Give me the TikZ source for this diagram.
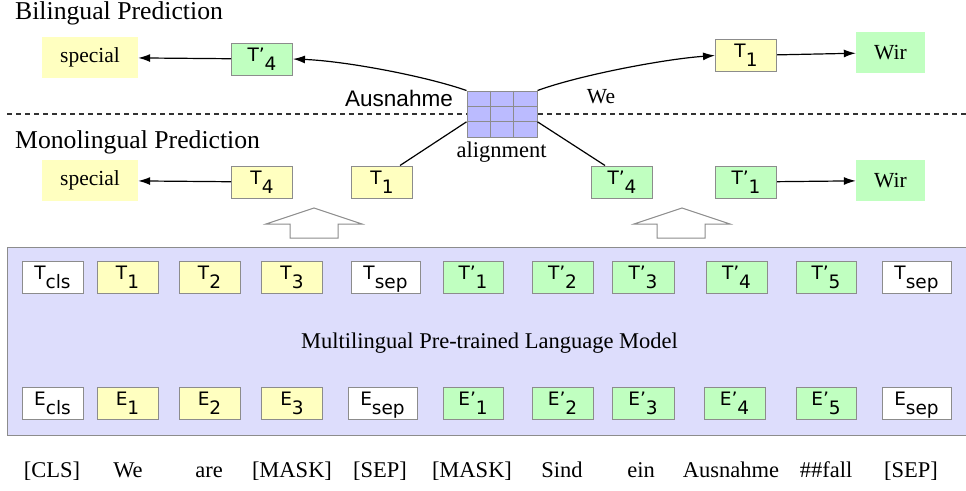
\documentclass[tikz,border=0pt]{standalone}
\usepackage{fontspec}
\setmainfont{Liberation Serif}
\newfontfamily\lblfont{DejaVu Sans}
\newfontfamily\helvfont{Liberation Sans}
\usetikzlibrary{arrows.meta,calc}
\definecolor{ylw}{RGB}{255,255,192}
\definecolor{grn}{RGB}{192,255,192}
\definecolor{panelc}{RGB}{221,221,252}
\definecolor{cellc}{RGB}{187,187,255}
\definecolor{bordr}{RGB}{140,140,140}
\definecolor{dashc}{RGB}{50,50,50}
\newcommand{\tk}[2]{{\lblfont\fontsize{18.5}{18.5}\selectfont #1\raisebox{-9pt}{#2}}}
\begin{document}
\begin{tikzpicture}[x=1pt,y=-1pt,
  box/.style={draw=bordr,line width=1pt,minimum height=32pt,minimum width=61pt,inner sep=0pt,text height=13.5pt,text depth=9pt},
  yb/.style={box,fill=ylw},
  gb/.style={box,fill=grn},
  wb/.style={box,fill=white},
  wordbox/.style={minimum width=96pt,minimum height=41pt,inner sep=0pt,font=\fontsize{21.5}{22}\selectfont},
  heading/.style={anchor=base west,inner sep=0pt,font=\fontsize{25.7}{28}\selectfont},
  token/.style={anchor=base,inner sep=0pt,font=\fontsize{22.5}{24}\selectfont},
  arr/.style={-{Latex[length=12pt,width=8pt]},line width=1.2pt},
  conn/.style={line width=1.2pt},
  hollow/.style={draw=bordr,fill=white,line width=1pt}
]
\useasboundingbox (0,0) rectangle (966,490);

% headings
\node[heading] (bil) at (15,19) {Bilingual Prediction};
\node[heading] (mon) at (15,148) {Monolingual Prediction};

% dashed separator
\draw[dashc,line width=1.2pt,dash pattern=on 5pt off 4pt] (7,114) -- (966,114);

% alignment grid
\node[draw=bordr,fill=cellc,line width=1pt,minimum width=70pt,minimum height=46pt,inner sep=0pt] (al) at (502,114) {};
\draw[bordr,line width=1pt] ($(al.north west)!1/3!(al.north east)$) -- ($(al.south west)!1/3!(al.south east)$);
\draw[bordr,line width=1pt] ($(al.north west)!2/3!(al.north east)$) -- ($(al.south west)!2/3!(al.south east)$);
\draw[bordr,line width=1pt] ($(al.north west)!1/3!(al.south west)$) -- ($(al.north east)!1/3!(al.south east)$);
\draw[bordr,line width=1pt] ($(al.north west)!2/3!(al.south west)$) -- ($(al.north east)!2/3!(al.south east)$);
\node[font=\fontsize{22.5}{24}\selectfont,anchor=base,inner sep=0pt] (alab) at (501.5,157) {alignment};
\node[font=\helvfont\fontsize{22.5}{24}\selectfont,inner sep=0pt] (aus) at (399,98) {Ausnahme};
\node[font=\fontsize{21.5}{24}\selectfont,inner sep=0pt] (we) at (601,97) {We};

% bilingual prediction row
\node[wordbox,fill=ylw] (sp1) at (90,57.5) {special};
\node[gb] (tp4a) at (262,59) {\tk{T’}{4}};
\node[yb] (t1a) at (746,55.5) {\tk{T}{1}};
\node[wordbox,fill=grn,minimum width=69pt] (wir1) at (890.5,52.5) {Wir};

% monolingual prediction row
\node[wordbox,fill=ylw] (sp2) at (90,180.5) {special};
\node[yb] (t4b) at (262,182) {\tk{T}{4}};
\node[yb] (t1b) at (382,182) {\tk{T}{1}};
\node[gb] (tp4b) at (622,182) {\tk{T’}{4}};
\node[gb] (tp1b) at (746,182) {\tk{T’}{1}};
\node[wordbox,fill=grn,minimum width=69pt] (wir2) at (890.5,180.5) {Wir};

% connectors
\draw[arr] (tp4a) -- (sp1);
\draw[arr] (t1a) -- (wir1);
\draw[arr] (t4b) -- (sp2);
\draw[arr] (tp1b) -- (wir2);
\draw[arr] (al.north west) .. controls (425,76) and (345,61) .. (tp4a.east);
\draw[arr] (al.north east) .. controls (580,75) and (665,59) .. (t1a.west);
\draw[conn] ($(al.north west)!2/3!(al.south west)$) -- ([xshift=18pt]t1b.north);
\draw[conn] ($(al.north east)!2/3!(al.south east)$) -- ([xshift=-17pt]tp4b.north);

% hollow arrows
\draw[hollow] (314,208) -- (362,224) -- (338,224) -- (338,238) -- (290,238) -- (290,224) -- (266,224) -- cycle;
\draw[hollow] (682,208) -- (730,224) -- (705,224) -- (705,238) -- (657,238) -- (657,224) -- (634,224) -- cycle;

% model panel
\fill[panelc] (7,247) rectangle (966,435);
\draw[bordr,line width=1pt] (966,247) -- (7,247) -- (7,435) -- (966,435);
\node[font=\fontsize{22.5}{24}\selectfont,anchor=base,inner sep=0pt] (mlm) at (489.5,348) {Multilingual Pre-trained Language Model};

% T row
\node[wb] (tcls) at (52.5,277) {\tk{T}{cls}};
\node[yb] (t1) at (127.5,277) {\tk{T}{1}};
\node[yb] (t2) at (209.5,277) {\tk{T}{2}};
\node[yb] (t3) at (292,277) {\tk{T}{3}};
\node[wb,minimum width=69pt] (tsep1) at (385.5,277) {\tk{T}{sep}};
\node[gb,minimum width=60pt] (tq1) at (473,277) {\tk{T’}{1}};
\node[gb] (tq2) at (562.5,277) {\tk{T’}{2}};
\node[gb,minimum width=62pt] (tq3) at (643,277) {\tk{T’}{3}};
\node[gb] (tq4) at (736.5,277) {\tk{T’}{4}};
\node[gb,minimum width=60pt] (tq5) at (826,277) {\tk{T’}{5}};
\node[wb,minimum width=69pt] (tsep2) at (916.5,277) {\tk{T}{sep}};

% E row
\node[wb] (ecls) at (52.5,403.5) {\tk{E}{cls}};
\node[yb] (e1) at (127.5,403.5) {\tk{E}{1}};
\node[yb] (e2) at (209.5,403.5) {\tk{E}{2}};
\node[yb] (e3) at (292,403.5) {\tk{E}{3}};
\node[wb,minimum width=69pt] (esep1) at (382.5,403.5) {\tk{E}{sep}};
\node[gb,minimum width=60pt] (eq1) at (473,403.5) {\tk{E’}{1}};
\node[gb] (eq2) at (562.5,403.5) {\tk{E’}{2}};
\node[gb,minimum width=62pt] (eq3) at (643,403.5) {\tk{E’}{3}};
\node[gb] (eq4) at (734.5,403.5) {\tk{E’}{4}};
\node[gb,minimum width=60pt] (eq5) at (826,403.5) {\tk{E’}{5}};
\node[wb,minimum width=69pt] (esep2) at (916.5,403.5) {\tk{E}{sep}};

% input tokens
\node[token] (w1) at (52,477) {[CLS]};
\node[token] (w2) at (128,477) {We};
\node[token] (w3) at (209,477) {are};
\node[token] (w4) at (292,477) {[MASK]};
\node[token] (w5) at (380,477) {[SEP]};
\node[token] (w6) at (472,477) {[MASK]};
\node[token] (w7) at (562,477) {Sind};
\node[token] (w8) at (641,477) {ein};
\node[token] (w9) at (731,477) {Ausnahme};
\node[token] (w10) at (826,477) {\#\#fall};
\node[token] (w11) at (911,477) {[SEP]};
\end{tikzpicture}
\end{document}
